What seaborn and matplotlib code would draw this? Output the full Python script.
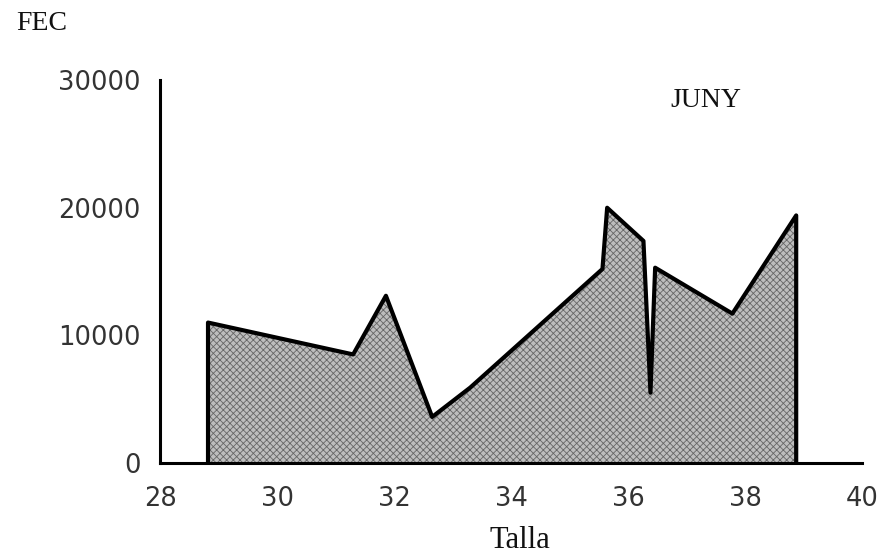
import matplotlib
matplotlib.use("Agg")
import matplotlib.pyplot as plt
import seaborn as sns
import pandas as pd

# Data (Talla vs FEC, June)
talla = [28.82, 28.82, 31.30, 31.86, 32.65, 33.30, 35.56, 35.64, 36.26, 36.38, 36.46, 37.78, 38.87, 38.87]
fec   = [0,     11000, 8500,  13100, 3600,  5900,  15200, 20000, 17400, 5500,  15300, 11700, 19400, 0]

xticks = [28, 30, 32, 34, 36, 38, 40]
yticks = [0, 10000, 20000, 30000]

df = pd.DataFrame({"Talla": talla, "FEC": fec})

sns.set_style("white")
plt.rcParams["font.family"] = ["DejaVu Sans"]
plt.rcParams["hatch.color"] = "#666666"
plt.rcParams["hatch.linewidth"] = 0.6

fig = plt.figure(figsize=(8.89, 5.57), dpi=100)
ax = fig.add_axes([0.18, 0.169, 0.79, 0.687])

ax.fill(df["Talla"], df["FEC"], facecolor="#bdbdbd", hatch="xxxxx", edgecolor="#666666", linewidth=0)
sns.lineplot(data=df, x="Talla", y="FEC", sort=False, estimator=None, color="black",
             linewidth=3, ax=ax)

ax.set_xlim(28, 40)
ax.set_ylim(0, 30000)
ax.set_xticks(xticks)
ax.set_yticks(yticks)
ax.set_xticklabels([str(t) for t in xticks], fontsize=18.5, color="#333333")
ax.set_yticklabels([str(t) for t in yticks], fontsize=18.5, color="#333333")
ax.tick_params(axis="both", direction="out", length=8, width=2, color="black", pad=6)
ax.tick_params(axis="x", pad=9)

sns.despine(ax=ax)
for s in ["left", "bottom"]:
    ax.spines[s].set_linewidth(2.2)
    ax.spines[s].set_color("black")

ax.set_xlabel("")
ax.set_ylabel("")
serif = ["Liberation Serif", "DejaVu Serif"]
fig.text(520 / 889, 1 - 540 / 557, "Talla", family=serif, fontsize=22, ha="center", va="center", color="#111111")
fig.text(42 / 889, 1 - 24 / 557, "FEC", family=serif, fontsize=20, ha="center", va="center", color="#111111")
ax.text(37.33, 28400, "JUNY", family=serif, fontsize=20, ha="center", va="center", color="#111111")

fig.savefig("out.png", dpi=100)
